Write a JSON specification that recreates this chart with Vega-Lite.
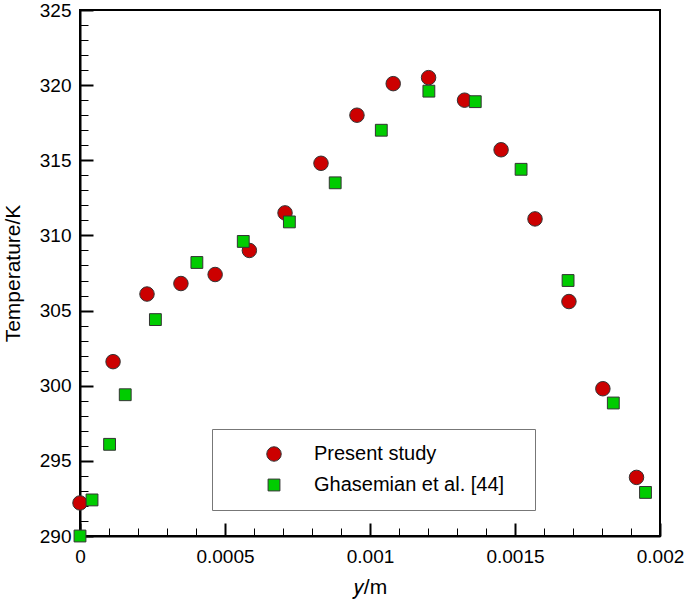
{
  "$schema": "https://vega.github.io/schema/vega-lite/v6.json",
  "width": 580,
  "height": 526,
  "autosize": {"type": "none"},
  "padding": {"left": 80, "top": 10, "right": 25, "bottom": 66},
  "background": "white",
  "config": {
    "view": {"stroke": "black", "strokeWidth": 2},
    "font": "Liberation Sans",
    "axis": {"grid": false, "domainColor": "black", "tickColor": "black", "labelColor": "black", "titleColor": "black", "labelFont": "Liberation Sans", "titleFont": "Liberation Sans", "titleFontWeight": "normal"}
  },
  "data": {"values": [
    {"y": 0.0, "T": 292.2, "series": "Present study"},
    {"y": 0.000114, "T": 301.6, "series": "Present study"},
    {"y": 0.000231, "T": 306.1, "series": "Present study"},
    {"y": 0.000348, "T": 306.8, "series": "Present study"},
    {"y": 0.000466, "T": 307.4, "series": "Present study"},
    {"y": 0.000584, "T": 309.0, "series": "Present study"},
    {"y": 0.000707, "T": 311.5, "series": "Present study"},
    {"y": 0.000831, "T": 314.8, "series": "Present study"},
    {"y": 0.000955, "T": 318.0, "series": "Present study"},
    {"y": 0.00108, "T": 320.1, "series": "Present study"},
    {"y": 0.001202, "T": 320.5, "series": "Present study"},
    {"y": 0.001326, "T": 319.0, "series": "Present study"},
    {"y": 0.001452, "T": 315.7, "series": "Present study"},
    {"y": 0.001569, "T": 311.1, "series": "Present study"},
    {"y": 0.001686, "T": 305.6, "series": "Present study"},
    {"y": 0.001803, "T": 299.8, "series": "Present study"},
    {"y": 0.001919, "T": 293.9, "series": "Present study"},
    {"y": 0.0, "T": 290.0, "series": "Ghasemian et al. [44]"},
    {"y": 0.0000414, "T": 292.4, "series": "Ghasemian et al. [44]"},
    {"y": 0.000102, "T": 296.1, "series": "Ghasemian et al. [44]"},
    {"y": 0.000156, "T": 299.4, "series": "Ghasemian et al. [44]"},
    {"y": 0.00026, "T": 304.4, "series": "Ghasemian et al. [44]"},
    {"y": 0.000403, "T": 308.2, "series": "Ghasemian et al. [44]"},
    {"y": 0.000563, "T": 309.6, "series": "Ghasemian et al. [44]"},
    {"y": 0.000722, "T": 310.9, "series": "Ghasemian et al. [44]"},
    {"y": 0.00088, "T": 313.5, "series": "Ghasemian et al. [44]"},
    {"y": 0.001039, "T": 317.0, "series": "Ghasemian et al. [44]"},
    {"y": 0.001203, "T": 319.6, "series": "Ghasemian et al. [44]"},
    {"y": 0.001363, "T": 318.9, "series": "Ghasemian et al. [44]"},
    {"y": 0.001521, "T": 314.4, "series": "Ghasemian et al. [44]"},
    {"y": 0.001683, "T": 307.0, "series": "Ghasemian et al. [44]"},
    {"y": 0.001839, "T": 298.85, "series": "Ghasemian et al. [44]"},
    {"y": 0.00195, "T": 292.9, "series": "Ghasemian et al. [44]"}
  ]},
  "resolve": {"axis": {"x": "independent", "y": "independent"}},
  "layer": [
    {
      "mark": {"type": "point", "opacity": 0},
      "encoding": {
        "x": {"field": "y", "type": "quantitative", "scale": {"domain": [0, 0.002], "nice": false, "zero": false},
          "axis": {"orient": "bottom", "values": [0.0001, 0.0002, 0.0003, 0.0004, 0.0006, 0.0007, 0.0008, 0.0009, 0.0011, 0.0012, 0.0013, 0.0014, 0.0016, 0.0017, 0.0018, 0.0019], "labels": false, "domain": false, "tickSize": -8, "tickWidth": 1, "title": null}},
        "y": {"field": "T", "type": "quantitative", "scale": {"domain": [290, 325], "nice": false, "zero": false},
          "axis": {"orient": "left", "values": [291, 292, 293, 294, 296, 297, 298, 299, 301, 302, 303, 304, 306, 307, 308, 309, 311, 312, 313, 314, 316, 317, 318, 319, 321, 322, 323, 324], "labels": false, "domain": false, "tickSize": -8, "tickWidth": 1, "title": null}}
      }
    },
    {
      "mark": {"type": "point", "filled": true, "stroke": "#333333", "strokeWidth": 1, "opacity": 1},
      "encoding": {
        "x": {"field": "y", "type": "quantitative",
          "axis": {"orient": "bottom", "values": [0, 0.0005, 0.001, 0.0015, 0.002], "format": "~g", "tickSize": -13, "tickWidth": 2, "domainWidth": 2, "labelFontSize": 19, "labelPadding": 24, "labelFlush": false, "title": "𝑦/m", "titleFontSize": 21, "titlePadding": 10}},
        "y": {"field": "T", "type": "quantitative",
          "axis": {"orient": "left", "values": [290, 295, 300, 305, 310, 315, 320, 325], "tickSize": -13, "tickWidth": 2, "domainWidth": 2, "labelFontSize": 19, "labelPadding": 22, "labelFlush": false, "title": "Temperature/K", "titleFontSize": 21, "titlePadding": 16}},
        "color": {"field": "series", "type": "nominal", "sort": ["Present study", "Ghasemian et al. [44]"],
          "scale": {"domain": ["Present study", "Ghasemian et al. [44]"], "range": ["#cc0000", "#00cc00"]},
          "legend": {"title": null, "orient": "none", "legendX": 132, "legendY": 419, "strokeColor": "#777777", "fillColor": "white", "padding": 15, "symbolOffset": 37, "labelOffset": 30, "labelFontSize": 20, "labelColor": "black", "labelLimit": 500, "rowPadding": 11, "symbolStrokeColor": "#333333", "symbolStrokeWidth": 1, "labelExpr": "datum.label + '\u2800'"}},
        "shape": {"field": "series", "type": "nominal", "sort": ["Present study", "Ghasemian et al. [44]"],
          "scale": {"domain": ["Present study", "Ghasemian et al. [44]"], "range": ["circle", "square"]}},
        "size": {"field": "series", "type": "nominal", "sort": ["Present study", "Ghasemian et al. [44]"],
          "scale": {"domain": ["Present study", "Ghasemian et al. [44]"], "range": [210, 140]}}
      }
    }
  ]
}
